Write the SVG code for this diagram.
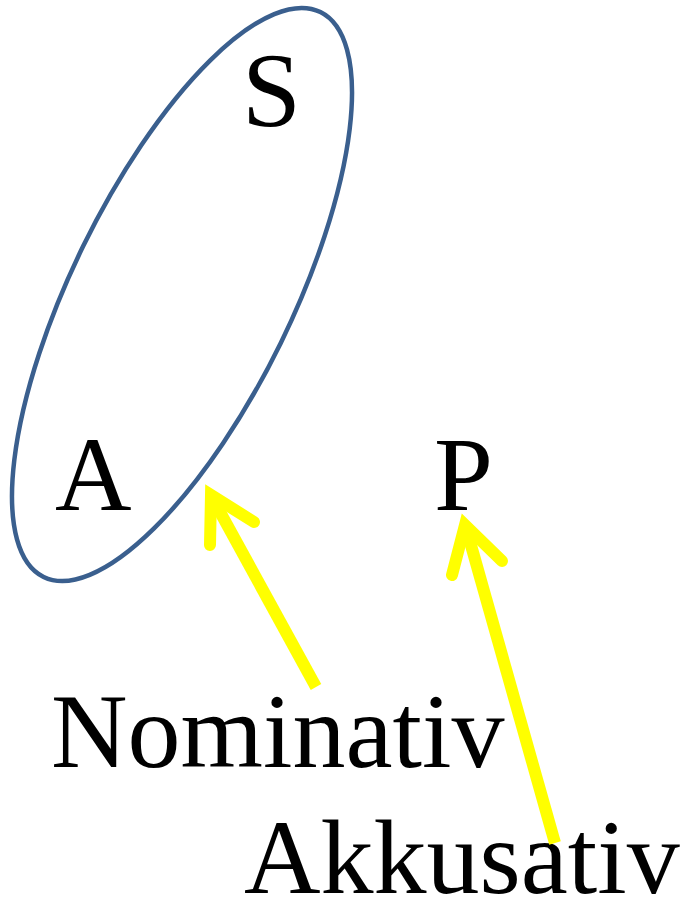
<svg xmlns="http://www.w3.org/2000/svg" width="685" height="902" viewBox="0 0 685 902">
<style>
text{font-family:"Liberation Serif","Times New Roman",serif;font-size:106px;fill:#000}
.ell{fill:none;stroke:#3a5f8e;stroke-width:4.5}
.shaft{stroke:#ffff00;stroke-width:12;fill:none;stroke-linecap:butt}
.head{stroke:#ffff00;stroke-width:12;fill:none;stroke-linecap:round;stroke-linejoin:miter;stroke-miterlimit:10}
</style>
<rect width="685" height="902" fill="#fff"/>
<g id="group-SA">
<ellipse class="ell" cx="182" cy="294.5" rx="314.5" ry="110" transform="rotate(-63.9 182 294.5)"/>
</g>
<g id="node-S"><text x="242" y="126">S</text></g>
<g id="node-A"><text x="55" y="510">A</text></g>
<g id="node-P"><text x="434" y="510">P</text></g>
<g id="node-Nominativ"><text x="51" y="767">Nominativ</text></g>
<g id="node-Akkusativ"><text x="244" y="893">Akkusativ</text></g>
<g id="connectors">
<line class="shaft" x1="316" y1="687" x2="214" y2="501"/>
<polyline class="head" points="254,522 211,495 210,545"/>
<line class="shaft" x1="555" y1="843" x2="467" y2="531"/>
<polyline class="head" points="502,561 465,525 452,575"/>
</g>
</svg>
